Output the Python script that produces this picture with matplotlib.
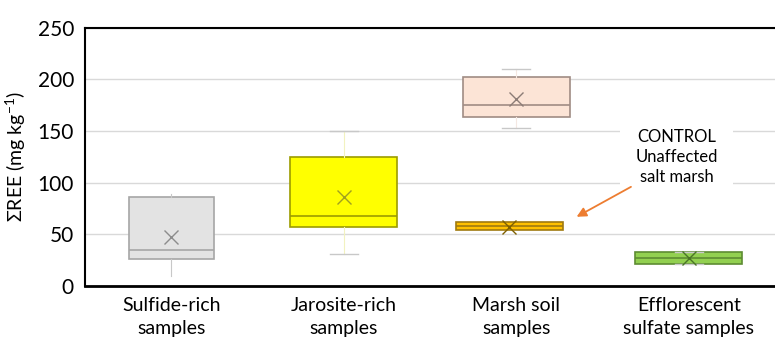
import matplotlib.pyplot as plt

# categorias y estadisticos (mg kg-1)
categorias = ['Sulfide-rich\nsamples', 'Jarosite-rich\nsamples', 'Marsh soil\nsamples',
              'Efflorescent\nsulfate samples']
q1 = [26, 57, 164, 21]
mediana = [35, 68, 175, 27.4]
q3 = [86, 125, 202, 32.6]
bigote_min = [10, 31, 153, 21]
bigote_max = [89, 150, 210, 32.6]
media = [47, 86, 181, 27.5]

# muestra control (marisma no afectada)
control = dict(q1=54, med=57.8, q3=61.7, whislo=54, whishi=61.7, mean=57.5)

relleno = ['#E3E3E3', '#FFFF00', '#FCE4D6', '#92D050']
borde = ['#A6A6A6', '#9C9C00', '#A08C84', '#5E8C32']
color_media = ['#8C8C8C', '#A0A020', '#8C7C76', '#4A7526']
color_bigote = ['#C8C8C8', '#F2F2C0', '#F4E8E2', '#92D050']
anchos = [0.49, 0.62, 0.62, 0.62]

plt.rcParams['font.family'] = ['Lato', 'DejaVu Sans']
plt.rcParams['mathtext.fontset'] = 'custom'
plt.rcParams['mathtext.rm'] = 'Lato'

fig = plt.figure(figsize=(7.75, 3.4), dpi=100)
ax = fig.add_axes([0.1097, 0.159, 0.8903, 0.759])

stats = []
for i in range(len(categorias)):
    stats.append(dict(q1=q1[i], med=mediana[i], q3=q3[i], whislo=bigote_min[i],
                      whishi=bigote_max[i], mean=media[i], fliers=[]))

for i, s in enumerate(stats):
    ax.bxp([s], positions=[i], widths=anchos[i], patch_artist=True, showmeans=True,
           boxprops=dict(facecolor=relleno[i], edgecolor=borde[i], linewidth=1.2),
           medianprops=dict(color=borde[i], linewidth=1.2),
           whiskerprops=dict(color=color_bigote[i], linewidth=0.8),
           capprops=dict(color='#C8C8C8', linewidth=1.0),
           capwidths=0 if i == 0 else 0.16,
           meanprops=dict(marker='x', markeredgecolor=color_media[i], markersize=10,
                          markeredgewidth=1.0),
           zorder=3)

control['fliers'] = []
ax.bxp([control], positions=[1.96], widths=0.62, patch_artist=True, showmeans=True,
       boxprops=dict(facecolor='#FFC000', edgecolor='#A07A10', linewidth=1.2),
       medianprops=dict(color='#A07A10', linewidth=1.2),
       whiskerprops=dict(color='#A07A10', linewidth=0.8), capwidths=0,
       meanprops=dict(marker='x', markeredgecolor='#7F6000', markersize=10,
                      markeredgewidth=1.0),
       zorder=3)

# etiqueta del control con fondo blanco y flecha naranja
ax.text(2.93, 125, 'CONTROL\nUnaffected\nsalt marsh', ha='center', va='center',
        fontsize=12, linespacing=1.3, zorder=5,
        bbox=dict(boxstyle='square,pad=0.9', facecolor='white', edgecolor='none'))
ax.annotate('', xy=(2.35, 67), xytext=(2.665, 96),
            arrowprops=dict(arrowstyle='-|>', color='#ED7D31', lw=1.3,
                            shrinkA=0, shrinkB=0, mutation_scale=14),
            zorder=5)

ax.set_xlim(-0.5, 3.5)
ax.set_ylim(0, 250)
ax.set_yticks([0, 50, 100, 150, 200, 250])
ax.set_xticks(range(len(categorias)))
ax.set_xticklabels(categorias, fontsize=14, linespacing=1.45)
ax.tick_params(axis='y', labelsize=15, length=0, pad=8)
ax.tick_params(axis='x', length=0, pad=8)
ax.set_ylabel('ΣREE (mg kg$^{-1}$)', fontsize=14, labelpad=7)

ax.yaxis.grid(True, color='#D9D9D9', linewidth=1.0, zorder=0)
ax.set_axisbelow(True)

ax.spines['right'].set_visible(False)
ax.spines['top'].set_linewidth(1.5)
ax.spines['left'].set_linewidth(1.5)
ax.spines['bottom'].set_linewidth(2)

fig.savefig('out.png', dpi=100)
